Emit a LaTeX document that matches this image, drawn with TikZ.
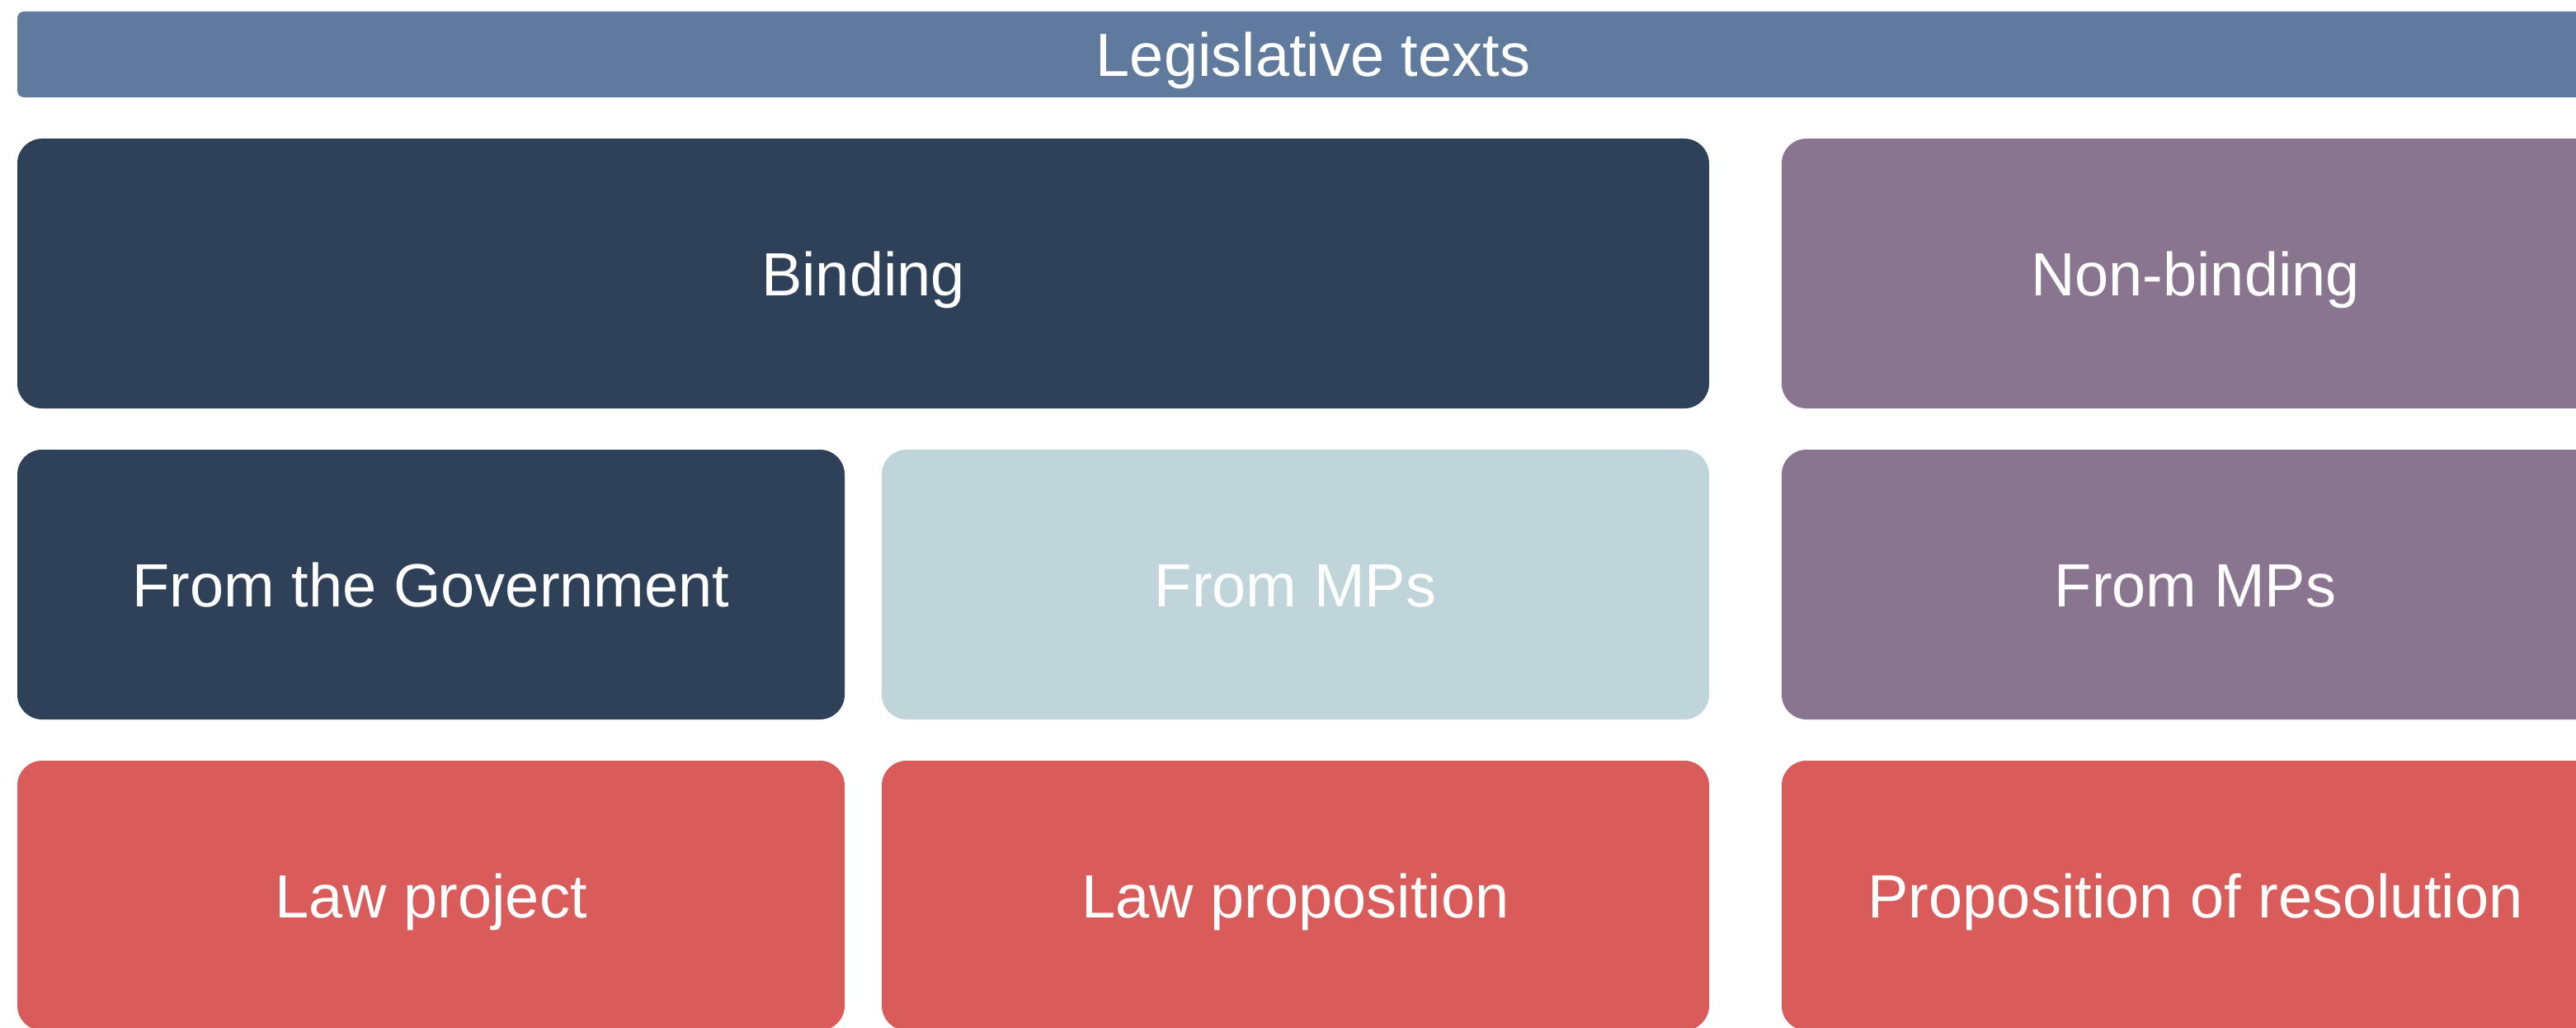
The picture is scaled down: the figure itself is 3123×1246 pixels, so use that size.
\documentclass[tikz,border=0pt]{standalone}
\usepackage{fontspec}
\setmainfont{Liberation Sans}
\definecolor{titleblue}{HTML}{5F7A9C}
\definecolor{navy}{HTML}{2F4059}
\definecolor{paleblue}{HTML}{C0D5DA}
\definecolor{mauve}{HTML}{8A7591}
\definecolor{coral}{HTML}{D95C5A}
\begin{document}
\begin{tikzpicture}[x=0.5pt,y=-0.5pt,
  lbl/.style={text=white, font=\fontsize{37}{44}\selectfont, text height=26.5pt, text depth=0pt, inner sep=0pt},
  tile/.style={lbl, rectangle, rounded corners=15pt, minimum height=163.5pt},
  halftile/.style={tile, minimum width=501.5pt},
  titlebar/.style={lbl, rectangle, rounded corners=4pt, minimum height=52pt, minimum width=1571pt, fill=titleblue}]
\useasboundingbox (0,0) rectangle (3123,1246);
\clip (0,0) rectangle (3123,1246);
\node[titlebar] (title) at (1592,66) {Legislative texts};
\node[tile, minimum width=1025.5pt, fill=navy] (binding) at (1046.5,331.5) {Binding};
\node[halftile, fill=mauve] (nonbinding) at (2661.5,331.5) {Non-binding};
\node[halftile, fill=navy] (gov) at (522.5,708.5) {From the Government};
\node[halftile, fill=paleblue] (mps) at (1570.5,708.5) {From MPs};
\node[halftile, fill=mauve] (mpsnb) at (2661.5,708.5) {From MPs};
\node[halftile, fill=coral] (project) at (522.5,1085.5) {Law project};
\node[halftile, fill=coral] (proposition) at (1570.5,1085.5) {Law proposition};
\node[halftile, fill=coral] (resolution) at (2661.5,1085.5) {Proposition of resolution};
\end{tikzpicture}
\end{document}
